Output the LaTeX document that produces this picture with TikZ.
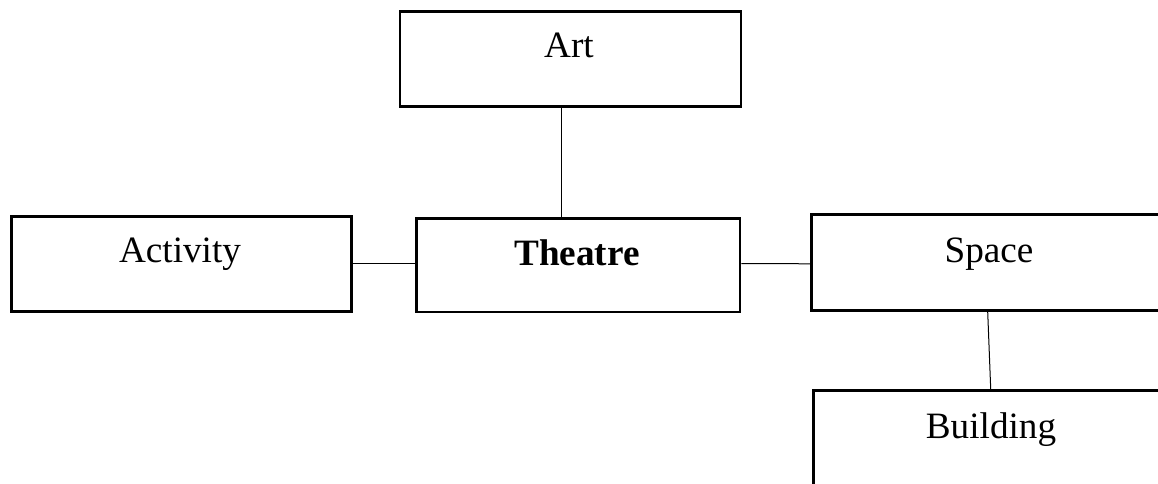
\documentclass[tikz,border=0pt]{standalone}
\usepackage{fontspec}
\setmainfont{Liberation Serif}
\usetikzlibrary{calc}
\begin{document}
\begin{tikzpicture}[x=1pt,y=-1pt,
  box/.style={draw=black,line width=2.6pt,rectangle,inner sep=0pt},
  txt/.style={anchor=base,inner sep=0pt,font=\fontsize{37.2}{40}\selectfont},
  link/.style={draw=black,line width=1pt}]
\useasboundingbox (0,0) rectangle (1158,483);
\clip (0,0) rectangle (1158,483);
% boxes
\node[box,minimum width=341pt,minimum height=95pt] (art) at (570.5,59) {};
\node[box,minimum width=340pt,minimum height=95pt] (activity) at (181.5,264) {};
\node[box,minimum width=323.5pt,minimum height=93.5pt] (theatre) at (578.25,265.25) {};
\node[box,minimum width=380pt,minimum height=96pt] (space) at (1001.3,262.65) {};
\node[box,minimum width=380pt,minimum height=120pt] (building) at (1003.7,450.3) {};
% texts
\node[txt] (tart) at (569,57.5) {Art};
\node[txt] (tactivity) at (180,262.5) {Activity};
\node[txt,font=\fontsize{37.2}{40}\selectfont\bfseries] (ttheatre) at (577,265.5) {Theatre};
\node[txt] (tspace) at (989,262) {Space};
\node[txt] (tbuilding) at (991,438) {Building};
% connectors
\draw[link] ($(art.south west)+(163,0)$) -- ($(theatre.north west)+(146.5,0)$);
\draw[link] ($(activity.north east)+(0,48.5)$) -- ($(theatre.north west)+(0,46.5)$);
\draw[link] ($(theatre.north east)+(0,46.5)$) -- ($(space.north west)+(0,50.4)$);
\draw[link] ($(space.south west)+(177.7,0)$) -- ($(building.north west)+(178.3,0)$);
\end{tikzpicture}
\end{document}
